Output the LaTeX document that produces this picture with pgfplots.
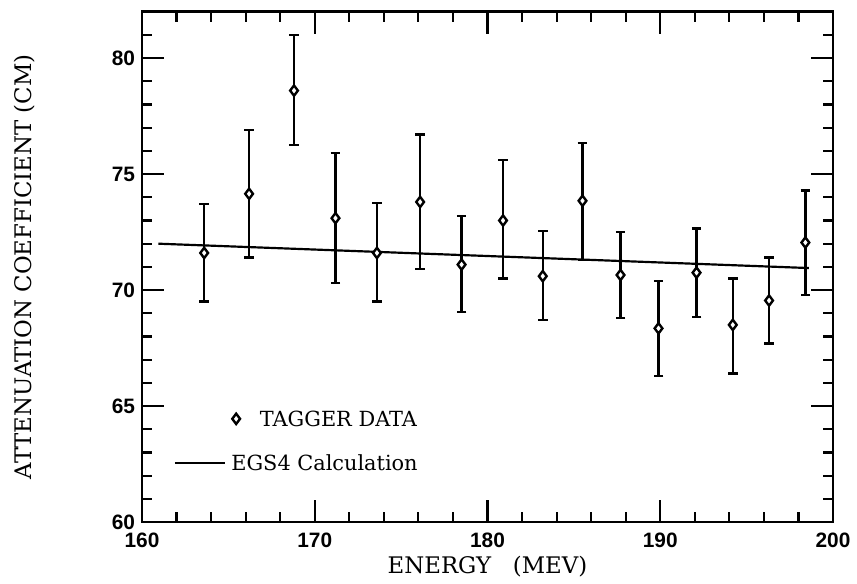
\documentclass[border=0pt]{standalone}
\usepackage{pgfplots}
\pgfplotsset{compat=1.18}
\usepackage{pgfplotstable}
\usepackage{fontspec}
\setmainfont{DejaVu Serif}
\setsansfont{Liberation Sans}

\pgfplotstableread{
x y ep em
163.6 71.6 2.1 2.1
166.2 74.15 2.75 2.75
168.8 78.6 2.4 2.35
171.2 73.1 2.8 2.8
173.6 71.6 2.15 2.1
176.1 73.8 2.9 2.9
178.5 71.1 2.1 2.05
180.9 73.0 2.6 2.5
183.2 70.6 1.95 1.9
185.5 73.85 2.5 2.55
187.7 70.65 1.85 1.85
189.9 68.35 2.05 2.05
192.1 70.75 1.9 1.9
194.2 68.5 2.0 2.1
196.3 69.55 1.85 1.85
198.4 72.05 2.25 2.25
}\taggerdata

\pgfplotstableread{
x y
160.95 72.0
198.6 70.95
}\egsdata

\begin{document}
\begin{tikzpicture}
\begin{axis}[
  scale only axis, width=348pt, height=257pt,
  xmin=160, xmax=200, ymin=60, ymax=82,
  xtick={160,170,180,190,200}, ytick={60,65,70,75,80},
  minor xtick={162,164,166,168,172,174,176,178,182,184,186,188,192,194,196,198},
  minor ytick={61,62,63,64,66,67,68,69,71,72,73,74,76,77,78,79,81},
  tick align=inside,
  major tick length=11pt, minor tick length=5pt,
  axis line style={line width=1.3pt},
  every tick/.style={line width=1.1pt, black},
  tick label style={font=\sffamily\bfseries\fontsize{10.5}{12}\selectfont},
  xticklabel style={yshift=-2pt},
  /pgf/number format/assume math mode=true,
  xlabel={ENERGY\ \ \ (MEV)},
  ylabel={ATTENUATION COEFFICIENT (CM)},
  label style={font=\fontsize{11.5}{13}\selectfont},
  xlabel style={at={(axis description cs:0.5,0)}, anchor=center, yshift=-22.5pt},
  ylabel style={at={(axis description cs:-0.1695,0.5)}, anchor=center},
  clip=false,
]
\addplot[only marks, mark=diamond*, mark size=2.6pt,
  mark options={fill=white, draw=black, line width=1.2pt},
  error bars/.cd, y dir=both, y explicit,
  error bar style={line width=1.2pt, black},
  error mark options={rotate=90, mark size=2.4pt, line width=1.2pt, black}]
  table[x=x, y=y, y error plus=ep, y error minus=em] {\taggerdata};
\addplot[black, line width=1.1pt, mark=none] table[x=x,y=y] {\egsdata};
% legend samples
\addplot[only marks, mark=diamond*, mark size=2.6pt,
  mark options={fill=white, draw=black, line width=1.2pt}] coordinates {(165.45,64.45)};
\addplot[black, line width=1.1pt, mark=none] coordinates {(161.9,62.55) (164.8,62.55)};
\node[anchor=west, inner sep=0pt, font=\fontsize{10.5}{12}\selectfont] at (axis cs:166.8,64.45) {TAGGER DATA};
\node[anchor=west, inner sep=0pt, font=\fontsize{10.5}{12}\selectfont] at (axis cs:165.15,62.55) {EGS4 Calculation};
\path (axis description cs:-0.2055,0.5) (axis description cs:0.5,1.023);
\end{axis}
\end{tikzpicture}
\end{document}
